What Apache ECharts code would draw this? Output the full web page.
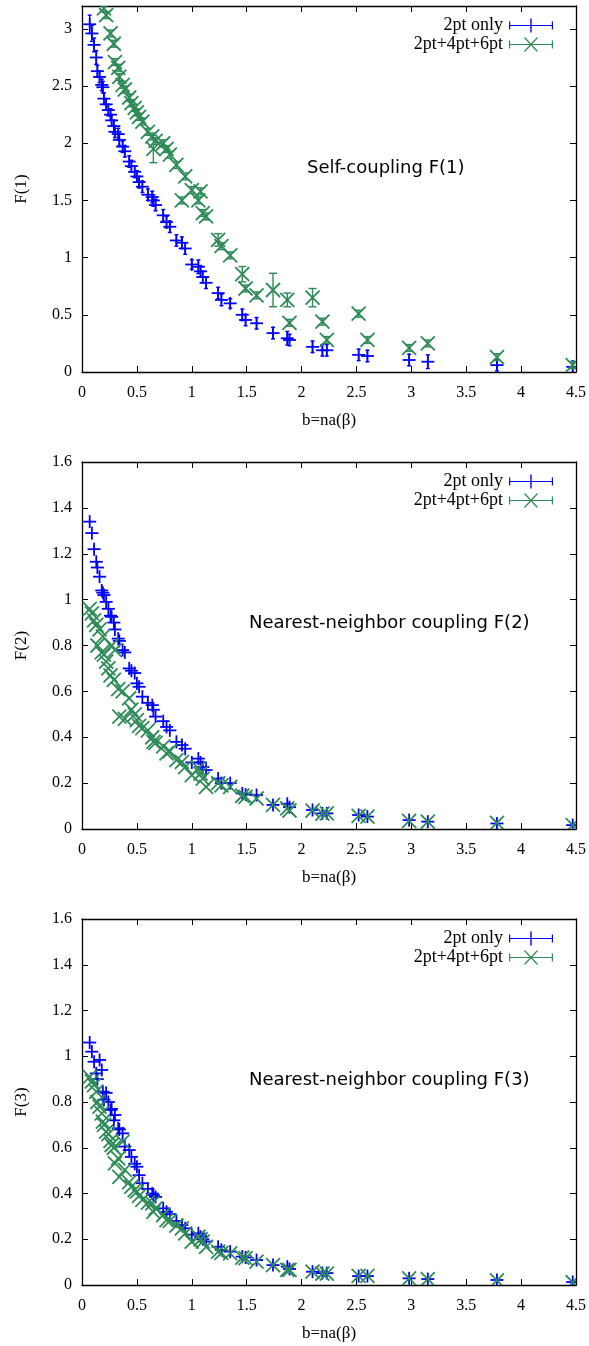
<!DOCTYPE html>
<html><head><meta charset="utf-8">
<script src="https://cdn.jsdelivr.net/npm/echarts@6/dist/echarts.min.js"></script>
<style>html,body{margin:0;padding:0;background:#fff}#c{width:589px;height:1346px}</style>
</head><body><div id="c"></div>
<script>
const bValues = [0.07,0.09,0.11,0.13,0.14,0.16,0.18,0.19,0.20,0.22,
  0.24,0.26,0.27,0.29,0.30,0.33,0.34,0.37,0.39,0.43,
  0.45,0.48,0.50,0.52,0.55,0.60,0.64,0.65,0.67,0.74,
  0.77,0.80,0.86,0.91,0.94,1.00,1.06,1.08,1.10,1.13,
  1.24,1.27,1.35,1.46,1.49,1.59,1.74,1.87,1.89,2.10,
  2.19,2.23,2.52,2.60,2.98,3.15,3.78,4.47];

const f1Blue = [3.04,2.96,2.86,2.75,2.63,2.58,2.51,2.49,2.39,2.34,
  2.29,2.25,2.20,2.15,2.10,2.08,2.03,1.97,1.93,1.84,
  1.80,1.75,1.71,1.66,1.62,1.55,1.53,1.50,1.46,1.37,
  1.31,1.27,1.15,1.13,1.08,0.94,0.92,0.88,0.83,0.78,
  0.69,0.63,0.60,0.50,0.455,0.426,0.34,0.295,0.28,0.22,
  0.19,0.19,0.15,0.14,0.105,0.09,0.06,0.045];
const f1BlueErr = [0.08,0.07,0.06,0.06,0.05,0.05,0.05,0.05,0.05,0.05,
  0.05,0.05,0.05,0.05,0.05,0.05,0.05,0.05,0.05,0.05,
  0.05,0.05,0.05,0.05,0.05,0.05,0.05,0.05,0.05,0.05,
  0.05,0.05,0.05,0.05,0.05,0.04,0.06,0.05,0.05,0.05,
  0.05,0.05,0.04,0.05,0.05,0.05,0.05,0.06,0.05,0.05,
  0.05,0.05,0.05,0.05,0.05,0.06,0.05,0.05];
const f1Green = [null,null,null,null,null,null,null,null,3.18,3.12,
  null,2.96,null,2.87,2.71,2.66,2.58,2.51,2.47,2.40,
  2.35,2.31,2.27,2.23,2.19,2.10,2.06,1.95,2.02,2.00,
  1.95,1.90,1.81,1.50,1.71,1.59,1.50,1.58,1.39,1.36,
  1.155,1.10,1.02,0.855,0.73,0.67,0.717,0.63,0.43,0.65,
  0.44,0.28,0.51,0.28,0.21,0.25,0.13,0.06];
const f1GreenErr = [0,0,0,0,0,0,0,0,0.03,0.03,
  0.03,0.03,0.03,0.03,0.03,0.03,0.03,0.03,0.03,0.03,
  0.03,0.03,0.03,0.03,0.03,0.03,0.03,0.12,0.03,0.03,
  0.03,0.03,0.03,0.03,0.03,0.03,0.03,0.03,0.03,0.03,
  0.055,0.03,0.03,0.067,0.03,0.03,0.146,0.06,0.03,0.08,
  0.03,0.03,0.03,0.03,0.03,0.03,0.03,0.03];

const f2Blue = [1.34,1.29,1.22,1.165,1.14,1.10,1.04,1.03,1.02,0.99,
  0.96,0.93,0.925,0.90,0.87,0.83,0.82,0.78,0.77,0.70,
  0.69,0.68,0.635,0.62,0.577,0.55,0.54,0.52,0.49,0.47,
  0.445,0.43,0.38,0.366,0.35,0.29,0.307,0.29,0.27,0.257,
  0.22,0.20,0.20,0.155,0.15,0.148,0.105,0.11,0.095,0.083,
  0.068,0.068,0.061,0.054,0.039,0.032,0.024,0.017];
const f2Green = [0.96,0.94,0.91,0.89,0.80,0.87,0.77,0.84,0.76,0.73,
  0.70,0.67,0.80,0.65,0.78,0.61,0.49,0.60,0.48,0.57,
  0.52,0.50,0.475,0.45,0.44,0.43,0.40,0.38,0.375,0.36,
  0.33,0.34,0.30,0.293,0.27,0.235,0.264,0.242,0.22,0.184,
  0.20,0.19,0.184,0.145,0.14,0.133,0.105,0.09,0.08,0.08,
  0.067,0.068,0.057,0.054,0.035,0.032,0.027,0.017];

const f3Blue = [1.06,1.02,0.976,0.925,0.90,0.984,0.94,0.845,0.81,0.84,
  0.80,0.765,0.77,0.72,0.743,0.685,0.68,0.663,0.605,0.59,
  0.56,0.53,0.517,0.48,0.445,0.42,0.40,0.393,0.385,0.335,
  0.32,0.31,0.28,0.262,0.248,0.22,0.226,0.211,0.20,0.19,
  0.167,0.153,0.146,0.124,0.12,0.109,0.087,0.08,0.07,0.058,
  0.052,0.052,0.039,0.039,0.029,0.026,0.022,0.013];
const f3Green = [0.91,0.89,0.874,0.845,0.80,0.78,0.75,0.714,0.70,0.67,
  0.66,0.63,0.612,0.60,0.532,0.554,0.473,0.627,0.503,0.45,
  0.43,0.415,0.408,0.39,0.372,0.36,0.357,0.32,0.335,0.306,
  0.284,0.28,0.26,0.248,0.226,0.19,0.211,0.20,0.19,0.167,
  0.146,0.14,0.138,0.12,0.117,0.102,0.087,0.066,0.066,0.058,
  0.05,0.05,0.04,0.04,0.029,0.026,0.02,0.012];

const seriesNames = ['2pt only', '2pt+4pt+6pt'];
const panelTitles = ['Self-coupling F(1)', 'Nearest-neighbor coupling F(2)', 'Nearest-neighbor coupling F(3)'];
const yNames = ['F(1)', 'F(2)', 'F(3)'];
const xName = 'b=na(\u03b2)';
const yMax = [3.2, 1.6, 1.6];
const yStep = [0.5, 0.2, 0.2];

const BLUE = '#0000ff', GREEN = '#2e8b57';
const serif = '"Liberation Serif", "Times New Roman", serif';

const grids = [
  {left: 82, right: 13, top: 6, height: 366},
  {left: 82, right: 13, top: 462, height: 367},
  {left: 82, right: 13, top: 919, height: 366}
];

function build(vals, errs) {
  const out = [];
  for (let i = 0; i < bValues.length; i++) {
    if (vals[i] == null) continue;
    out.push([bValues[i], vals[i], errs ? errs[i] : 0]);
  }
  return out;
}

function makeRender(kind, color) {
  return function (params, api) {
    const x = api.value(0), y = api.value(1), e = api.value(2);
    const p = api.coord([x, y]);
    const st = {stroke: color, lineWidth: 1.8, fill: null};
    const ch = [];
    if (kind === 'plus') {
      const s = 6.5;
      ch.push({type: 'line', shape: {x1: p[0] - s, y1: p[1], x2: p[0] + s, y2: p[1]}, style: st});
      ch.push({type: 'line', shape: {x1: p[0], y1: p[1] - s, x2: p[0], y2: p[1] + s}, style: st});
    } else {
      const s = 7;
      ch.push({type: 'line', shape: {x1: p[0] - s, y1: p[1] - s, x2: p[0] + s, y2: p[1] + s}, style: st});
      ch.push({type: 'line', shape: {x1: p[0] - s, y1: p[1] + s, x2: p[0] + s, y2: p[1] - s}, style: st});
    }
    if (e > 0) {
      const pt = api.coord([x, y + e]), pb = api.coord([x, y - e]);
      const c = kind === 'plus' ? 2 : 4;
      const est = {stroke: color, lineWidth: 1.4, fill: null};
      ch.push({type: 'line', shape: {x1: p[0], y1: pt[1], x2: p[0], y2: pb[1]}, style: est});
      ch.push({type: 'line', shape: {x1: p[0] - c, y1: pt[1], x2: p[0] + c, y2: pt[1]}, style: est});
      ch.push({type: 'line', shape: {x1: p[0] - c, y1: pb[1], x2: p[0] + c, y2: pb[1]}, style: est});
    }
    return {type: 'group', children: ch};
  };
}

const panelData = [
  [build(f1Blue, f1BlueErr), build(f1Green, f1GreenErr)],
  [build(f2Blue), build(f2Green)],
  [build(f3Blue), build(f3Green)]
];

const xAxes = [], yAxes = [], series = [], legends = [], graphics = [];
const tickStyle = {inside: true, length: 6, lineStyle: {color: '#000', width: 1}};
const lineStyle = {onZero: false, lineStyle: {color: '#000', width: 1.3}};
const legendTops = [11, 467, 924];
const titlePos = [[307, 168], [249, 623], [249, 1080]];

const bluePath = 'path://M0,6.4H44V7.6H0Z M0,3H1.2V11H0Z M42.8,3H44V11H42.8Z M21.3,0H22.7V14H21.3Z';
const greenPath = 'path://M0,6.4H44V7.6H0Z M0,3H1.2V11H0Z M42.8,3H44V11H42.8Z M14.6,0L16.4,0L29.4,14L27.6,14Z M27.6,0L29.4,0L16.4,14L14.6,14Z';

for (let i = 0; i < 3; i++) {
  xAxes.push({
    type: 'value', gridIndex: i, position: 'bottom', min: 0, max: 4.5, interval: 0.5,
    axisLine: lineStyle, axisTick: tickStyle, splitLine: {show: false},
    axisLabel: {color: '#000', fontFamily: serif, fontSize: 16, margin: 13},
    name: xName, nameLocation: 'middle', nameGap: 40,
    nameTextStyle: {color: '#000', fontFamily: serif, fontSize: 17}
  });
  xAxes.push({
    type: 'value', gridIndex: i, position: 'top', min: 0, max: 4.5, interval: 0.5,
    axisLine: lineStyle, axisTick: tickStyle, splitLine: {show: false}, axisLabel: {show: false}
  });
  yAxes.push({
    type: 'value', gridIndex: i, position: 'left', min: 0, max: yMax[i], interval: yStep[i],
    axisLine: lineStyle, axisTick: tickStyle, splitLine: {show: false},
    axisLabel: {color: '#000', fontFamily: serif, fontSize: 16, margin: 10, showMaxLabel: i !== 0},
    name: yNames[i], nameLocation: 'middle', nameGap: 52, nameRotate: 90,
    nameTextStyle: {color: '#000', fontFamily: serif, fontSize: 17}
  });
  yAxes.push({
    type: 'value', gridIndex: i, position: 'right', min: 0, max: yMax[i], interval: yStep[i],
    axisLine: lineStyle, axisTick: tickStyle, splitLine: {show: false}, axisLabel: {show: false}
  });
  series.push({
    type: 'custom', name: seriesNames[0], xAxisIndex: 2 * i, yAxisIndex: 2 * i,
    itemStyle: {color: BLUE}, renderItem: makeRender('plus', BLUE),
    encode: {x: 0, y: 1}, data: panelData[i][0], clip: true, z: 2
  });
  series.push({
    type: 'custom', name: seriesNames[1], xAxisIndex: 2 * i, yAxisIndex: 2 * i,
    itemStyle: {color: GREEN}, renderItem: makeRender('cross', GREEN),
    encode: {x: 0, y: 1}, data: panelData[i][1], clip: true, z: 3
  });
  legends.push({
    orient: 'vertical', right: 31, top: legendTops[i], align: 'right',
    itemWidth: 44, itemHeight: 14, itemGap: 0, selectedMode: false,
    textStyle: {color: '#000', fontFamily: serif, fontSize: 18, lineHeight: 19, padding: [0, 1, 0, 0]},
    data: [{name: seriesNames[0], icon: bluePath}, {name: seriesNames[1], icon: greenPath}]
  });
  graphics.push({
    type: 'text', x: titlePos[i][0], y: titlePos[i][1],
    style: {text: panelTitles[i], fill: '#000', font: '18px "DejaVu Sans"', verticalAlign: 'middle'}
  });
}

const chart = echarts.init(document.getElementById('c'), null, {renderer: 'canvas'});
chart.setOption({
  animation: false,
  backgroundColor: '#fff',
  grid: grids,
  xAxis: xAxes,
  yAxis: yAxes,
  legend: legends,
  graphic: graphics,
  series: series
});
</script>
</body></html>
